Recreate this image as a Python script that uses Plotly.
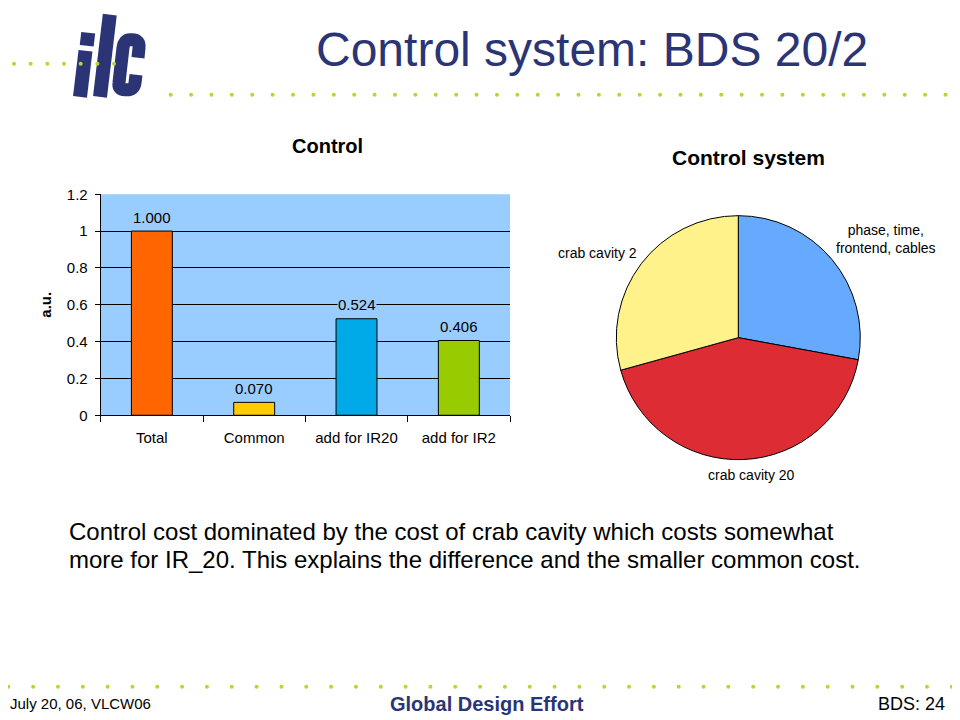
import plotly.graph_objects as go

# ---- data ----
bar_categories = ["Total", "Common", "add for IR20", "add for IR2"]
bar_values = [1.000, 0.070, 0.524, 0.406]
bar_colors = ["#FF6600", "#FFCC00", "#00A9E8", "#99CC00"]
y_ticks = [0, 0.2, 0.4, 0.6, 0.8, 1.0, 1.2]
y_tick_labels = ["0", "0.2", "0.4", "0.6", "0.8", "1", "1.2"]

pie_labels = ["phase, time, frontend, cables", "crab cavity 20", "crab cavity 2"]
pie_values = [27.9, 42.8, 29.3]
pie_colors = ["#66AAFF", "#DD2C33", "#FFF28A"]

NAVY = "#2B3576"
DOT = "#BCD42E"
PLOTBG = "#99CCFF"
FONT = "Liberation Sans, Arial, sans-serif"

OX, OY, W, H = 8, 8, 944, 720
SY, AY = 0.975, 9.5   # observed vertical mapping of the photographed page
def px(X):
    return (X - OX) / W
def py(Y):
    yint = (Y - AY) / SY
    return 1 - (yint - OY) / H

fig = go.Figure()

fig.add_trace(go.Bar(
    x=bar_categories, y=bar_values,
    marker=dict(color=bar_colors, line=dict(color="black", width=1)),
    width=0.4, showlegend=False, hoverinfo="skip",
))

fig.add_trace(go.Pie(
    labels=pie_labels, values=pie_values,
    marker=dict(colors=pie_colors, line=dict(color="black", width=1)),
    sort=False, direction="clockwise", rotation=0,
    textinfo="none", showlegend=False, hoverinfo="skip",
    domain=dict(x=[px(616.3), px(860.3)], y=[py(461), py(214)]),
))

fig.update_layout(
    width=W, height=H,
    margin=dict(l=0, r=0, t=0, b=0),
    paper_bgcolor="white",
    plot_bgcolor=PLOTBG,
    font=dict(family=FONT, color="black"),
    xaxis=dict(
        domain=[px(100.7), px(510)],
        showline=True, linecolor="black", linewidth=1,
        ticks="outside", ticklen=6, tickcolor="black", tickson="boundaries",
        ticklabelstandoff=9,
        tickfont=dict(family=FONT, size=15, color="black"),
        showgrid=False,
    ),
    yaxis=dict(
        domain=[py(415), py(194.3)],
        range=[0, 1.2],
        tickvals=y_ticks, ticktext=y_tick_labels,
        showline=True, linecolor="black", linewidth=1,
        ticks="outside", ticklen=5, tickcolor="black",
        ticklabelstandoff=4,
        tickfont=dict(family=FONT, size=15, color="black"),
        showgrid=True, gridcolor="black", gridwidth=1,
        zeroline=False,
        title=dict(text="<b>a.u.</b>", font=dict(family=FONT, size=15), standoff=11),
    ),
)

ann = []
for c, v in zip(bar_categories, bar_values):
    ann.append(dict(x=c, y=v, xref="x", yref="y", text=f"{v:.3f}", showarrow=False,
                    yanchor="middle", yshift=14, bgcolor=PLOTBG, borderpad=0,
                    font=dict(family=FONT, size=15, color="black")))

def text(x, y, s, size, color="black", xanchor="center", yanchor="middle", bold=False, **kw):
    ann.append(dict(
        x=px(x), y=py(y), xref="paper", yref="paper",
        text=f"<b>{s}</b>" if bold else s, showarrow=False,
        xanchor=xanchor, yanchor=yanchor,
        font=dict(family=FONT, size=size, color=color), **kw))

text(592, 50, "Control system: BDS 20/2", 48, color=NAVY)
text(327, 146, "Control", 20, bold=True)
text(748, 158, "Control system", 21, bold=True)
text(886, 239, "phase, time,<br>frontend, cables", 14)
text(597, 253, "crab cavity 2", 14)
text(751, 475, "crab cavity 20", 14)
text(67, 531, "Control cost dominated by the cost of crab cavity which costs somewhat", 24, xanchor="left")
text(67, 559, "more for IR_20. This explains the difference and the smaller common cost.", 24, xanchor="left")
text(8, 703, "July 20, 06, VLCW06", 15, xanchor="left")
text(487, 703, "Global Design Effort", 20, color=NAVY, bold=True)
text(947, 703, "BDS: 24", 18, xanchor="right")

fig.update_layout(annotations=ann)

shapes = []
def stroke(path_pts, width=14):
    d = ""
    for cmd, pts in path_pts:
        d += cmd + " " + " ".join(f"{px(a):.5f},{py(b):.5f}" for a, b in pts) + " "
    shapes.append(dict(type="path", xref="paper", yref="paper", path=d.strip(),
                       line=dict(color=NAVY, width=width), fillcolor="rgba(0,0,0,0)",
                       layer="above"))
stroke([("M", [(88.2, 33)]), ("L", [(86.7, 46)])])
stroke([("M", [(85.5, 51)]), ("L", [(80.0, 97)])])
stroke([("M", [(109.8, 15)]), ("L", [(100.0, 97)])])
stroke([("M", [(138, 58)]), ("L", [(139, 48)]), ("Q", [(140, 40), (132, 40)]),
        ("L", [(130, 40)]), ("Q", [(124, 40), (123, 48)]), ("L", [(119, 83)]),
        ("Q", [(118, 90), (125, 90)]), ("L", [(127, 90)]), ("Q", [(134, 90), (135, 83)]),
        ("L", [(136, 75)])], width=13)

def dots(x0, step, n, y):
    for i in range(n):
        cx = x0 + i * step
        shapes.append(dict(type="circle", xref="paper", yref="paper",
                           x0=px(cx - 2), x1=px(cx + 2),
                           y0=py(y + 2), y1=py(y - 2),
                           fillcolor=DOT, line=dict(width=0), layer="above"))
dots(170.7, 20.39, 39, 95)
dots(14, 16.67, 7, 64)
dots(8.3, 24.83, 39, 686)
fig.update_layout(shapes=shapes)

fig.write_html("out.html")
